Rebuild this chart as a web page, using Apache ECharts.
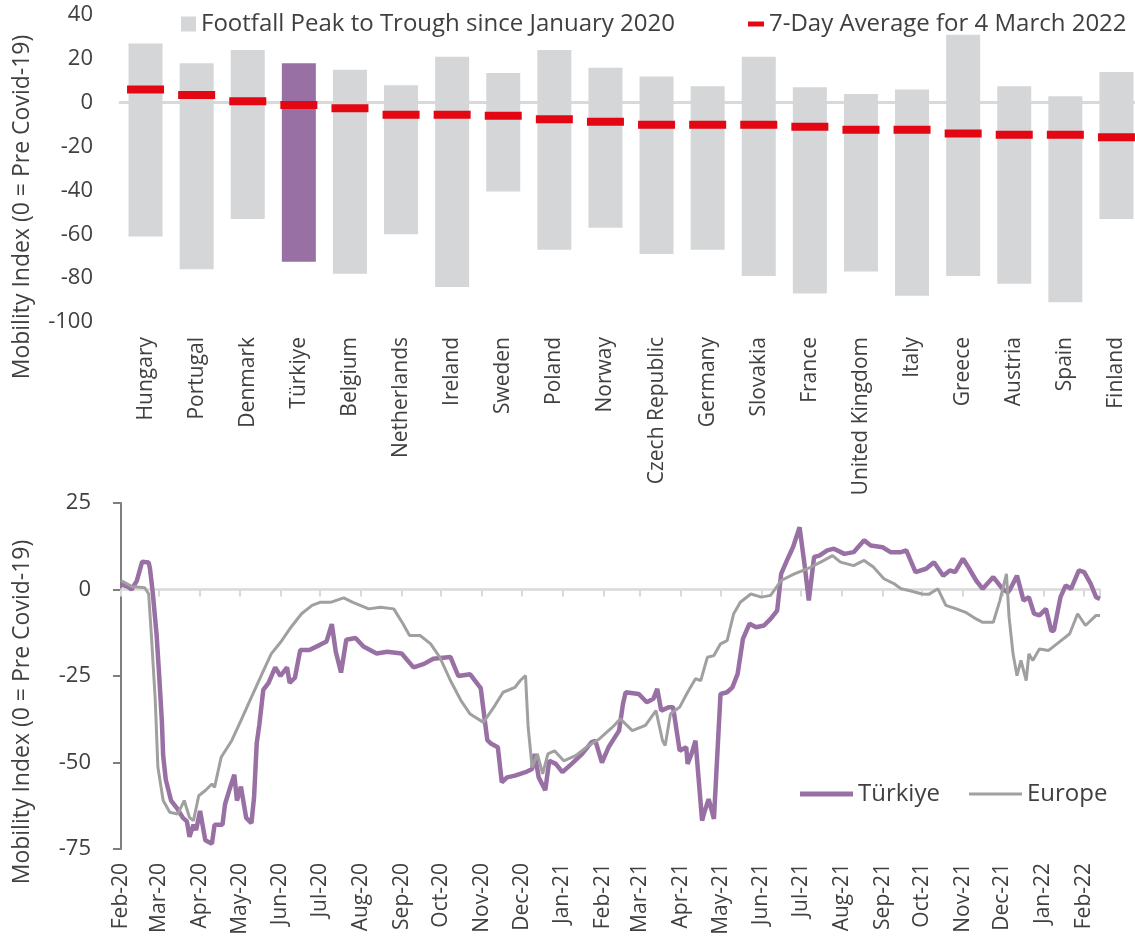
<!DOCTYPE html>
<html><head><meta charset="utf-8">
<script src="https://cdn.jsdelivr.net/npm/echarts@6/dist/echarts.min.js"></script>
<style>html,body{margin:0;padding:0;background:#fff}#c{width:1135px;height:936px}</style>
</head><body><div id="c"></div>
<script>
// ---------- Top chart data ----------
const countries = ['Hungary','Portugal','Denmark','Türkiye','Belgium','Netherlands','Ireland','Sweden','Poland','Norway','Czech Republic','Germany','Slovakia','France','United Kingdom','Italy','Greece','Austria','Spain','Finland'];
const peakValues   = [27, 18, 24, 18, 15, 8, 21, 13.5, 24, 16, 12, 7.5, 21, 7, 4, 6, 31, 7.5, 3, 14];
const troughValues = [-61, -76, -53, -72.5, -78, -60, -84, -40.5, -67, -57, -69, -67, -79, -87, -77, -88, -79, -82.5, -91, -53];
const avgValues    = [6, 3.5, 0.7, -1, -2.5, -5.5, -5.5, -6, -7.5, -8.7, -10, -10, -10, -11, -12.3, -12.3, -14, -14.6, -14.6, -15.8];

// ---------- Bottom chart data ----------
const turkiyeSeries = [
 ['2020-02-01',1.5],['2020-02-06',0.8],['2020-02-09',0],['2020-02-13',2.5],['2020-02-17',8],['2020-02-22',7.8],['2020-02-23',6],
 ['2020-02-25',-0.5],['2020-02-28',-13],['2020-03-01',-25],['2020-03-03',-38],['2020-03-04',-48],['2020-03-06',-55],['2020-03-10',-61],
 ['2020-03-15',-63.5],['2020-03-19',-66],['2020-03-22',-67],['2020-03-24',-71.5],['2020-03-27',-68],['2020-03-29',-69.5],['2020-04-01',-64],
 ['2020-04-05',-72.5],['2020-04-10',-73.5],['2020-04-12',-68],['2020-04-18',-68],['2020-04-20',-62],['2020-04-24',-57],['2020-04-27',-53.5],
 ['2020-04-29',-61],['2020-05-02',-57],['2020-05-06',-66],['2020-05-10',-67.5],['2020-05-12',-60],['2020-05-14',-44.5],['2020-05-16',-39],
 ['2020-05-19',-29],['2020-05-23',-27],['2020-05-28',-22.5],['2020-06-01',-25],['2020-06-06',-22.5],['2020-06-08',-27],['2020-06-12',-25.5],
 ['2020-06-16',-17.5],['2020-06-23',-17.5],['2020-07-01',-16],['2020-07-06',-15],['2020-07-10',-10],['2020-07-13',-18],['2020-07-17',-24],
 ['2020-07-21',-14.5],['2020-07-28',-14],['2020-08-03',-16.5],['2020-08-13',-18.5],['2020-08-21',-18],['2020-09-01',-18.5],['2020-09-10',-22.5],
 ['2020-09-18',-21.5],['2020-09-25',-20],['2020-10-08',-19.5],['2020-10-14',-25],['2020-10-23',-24.5],['2020-10-31',-28.5],['2020-11-05',-43.5],
 ['2020-11-08',-44.6],['2020-11-13',-45.6],['2020-11-16',-55.7],['2020-11-20',-54.3],['2020-11-26',-53.8],['2020-12-04',-52.8],['2020-12-09',-51.9],
 ['2020-12-11',-47.5],['2020-12-14',-54.3],['2020-12-19',-58],['2020-12-22',-49.5],['2020-12-27',-50.4],['2021-01-01',-52.8],['2021-01-08',-50.4],
 ['2021-01-16',-47.5],['2021-01-23',-44.2],['2021-01-26',-43.7],['2021-01-31',-50],['2021-02-05',-45.6],['2021-02-13',-40.8],['2021-02-16',-33],
 ['2021-02-18',-29.7],['2021-02-28',-30.2],['2021-03-06',-32.6],['2021-03-11',-31.6],['2021-03-14',-28.7],['2021-03-17',-35],['2021-03-23',-34],
 ['2021-03-26',-34],['2021-03-31',-46.6],['2021-04-05',-45.6],['2021-04-06',-50.4],['2021-04-09',-47.5],['2021-04-12',-43.7],['2021-04-17',-66.8],
 ['2021-04-19',-64],['2021-04-22',-60.6],['2021-04-26',-66.3],['2021-05-01',-30.2],['2021-05-06',-29.7],['2021-05-10',-28.3],['2021-05-14',-24.4],
 ['2021-05-18',-14.3],['2021-05-23',-9.9],['2021-05-28',-10.9],['2021-06-03',-10.4],['2021-06-08',-8.5],['2021-06-13',-6.1],['2021-06-16',4.5],
 ['2021-06-21',8.9],['2021-06-25',12.2],['2021-06-30',18],['2021-07-04',6.5],['2021-07-07',-3.2],['2021-07-11',9.4],['2021-07-15',9.8],
 ['2021-07-21',11.3],['2021-07-26',11.8],['2021-08-03',10.3],['2021-08-10',10.8],['2021-08-18',14.2],['2021-08-23',12.7],['2021-09-01',12.2],
 ['2021-09-07',10.8],['2021-09-15',10.8],['2021-09-19',11.3],['2021-09-26',5],['2021-10-04',6],['2021-10-10',7.9],['2021-10-17',4],
 ['2021-10-22',5.5],['2021-10-26',5],['2021-11-01',8.9],['2021-11-05',6.5],['2021-11-11',2.6],['2021-11-16',0.2],['2021-11-24',3.6],
 ['2021-12-01',0.2],['2021-12-05',-0.8],['2021-12-07',0.2],['2021-12-12',4],['2021-12-17',-3.2],['2021-12-21',-2.2],['2021-12-25',-7],
 ['2021-12-29',-7.5],['2022-01-03',-5.6],['2022-01-07',-11.9],['2022-01-09',-11.9],['2022-01-14',-2.2],['2022-01-18',1.2],['2022-01-22',0.2],
 ['2022-01-28',5.5],['2022-02-01',5],['2022-02-06',1.6],['2022-02-10',-2.2],['2022-02-13',-2.7]
];
const europeSeries = [
 ['2020-02-01',2.6],['2020-02-09',0.9],['2020-02-19',0.5],['2020-02-22',-1.3],['2020-02-24',-12.8],['2020-02-27',-32],['2020-02-29',-51.4],
 ['2020-03-04',-61],['2020-03-09',-64.4],['2020-03-15',-64.9],['2020-03-20',-61],['2020-03-24',-65.9],['2020-03-27',-66.8],['2020-03-31',-59.6],
 ['2020-04-05',-58.1],['2020-04-10',-56.2],['2020-04-12',-57.2],['2020-04-17',-48.5],['2020-04-25',-43.7],['2020-05-02',-37.9],['2020-05-10',-31.1],
 ['2020-05-18',-24.4],['2020-05-25',-18.6],['2020-06-02',-14.8],['2020-06-09',-10.9],['2020-06-17',-7],['2020-06-25',-4.6],['2020-07-01',-3.7],
 ['2020-07-09',-3.7],['2020-07-19',-2.4],['2020-07-26',-3.7],['2020-08-07',-5.6],['2020-08-16',-5.1],['2020-08-26',-5.6],['2020-09-02',-9.9],
 ['2020-09-07',-13.3],['2020-09-15',-13.3],['2020-09-23',-15.7],['2020-09-30',-19.6],['2020-10-08',-26.3],['2020-10-16',-32.1],['2020-10-23',-36],
 ['2020-11-02',-38.4],['2020-11-10',-34],['2020-11-17',-29.7],['2020-11-26',-28.3],['2020-11-30',-26.3],['2020-12-04',-24.9],['2020-12-06',-39.8],
 ['2020-12-09',-51.4],['2020-12-13',-47.5],['2020-12-17',-53.3],['2020-12-21',-47.5],['2020-12-26',-46.6],['2021-01-02',-49.5],['2021-01-11',-48],
 ['2021-01-21',-45.1],['2021-01-29',-43.2],['2021-02-08',-39.8],['2021-02-14',-37.4],['2021-02-23',-40.8],['2021-03-05',-39.3],['2021-03-13',-35],
 ['2021-03-18',-43.7],['2021-03-20',-45.1],['2021-03-24',-36],['2021-03-31',-34],['2021-04-06',-29.7],['2021-04-12',-25.8],['2021-04-16',-26.3],
 ['2021-04-21',-19.6],['2021-04-26',-19.1],['2021-05-01',-15.7],['2021-05-06',-14.8],['2021-05-11',-7],['2021-05-16',-3.7],['2021-05-24',-1.3],
 ['2021-06-01',-2.2],['2021-06-08',-1.7],['2021-06-16',2.6],['2021-06-26',4.5],['2021-07-06',6],['2021-07-16',7.9],['2021-07-25',9.8],
 ['2021-07-31',7.9],['2021-08-10',6.9],['2021-08-18',8.4],['2021-08-25',6.5],['2021-09-02',3.1],['2021-09-10',1.6],['2021-09-15',0.2],
 ['2021-09-21',-0.3],['2021-10-01',-1.3],['2021-10-06',-1.4],['2021-10-13',0.2],['2021-10-19',-4.6],['2021-10-27',-5.6],['2021-11-03',-6.6],
 ['2021-11-11',-8.5],['2021-11-16',-9.5],['2021-11-24',-9.5],['2021-11-29',-3.2],['2021-12-04',4.5],['2021-12-06',-8],['2021-12-09',-18.6],
 ['2021-12-12',-24.9],['2021-12-15',-20.5],['2021-12-19',-26.3],['2021-12-21',-18.6],['2021-12-24',-20.5],['2021-12-29',-17.2],['2022-01-05',-17.6],
 ['2022-01-13',-15.2],['2022-01-21',-12.8],['2022-01-27',-7],['2022-02-02',-10.4],['2022-02-10',-7.5],['2022-02-13',-7.5]
];
const monthNames = ['Jan','Feb','Mar','Apr','May','Jun','Jul','Aug','Sep','Oct','Nov','Dec'];
const axisTitle = 'Mobility Index (0 = Pre Covid-19)';
const footName = 'Footfall Peak to Trough since January 2020';
const avgName = '7-Day Average for 4 March 2022';

// ---------- Styles ----------
const FONT = 'Open Sans';
const TEXT = '#404040';
const PURPLE = '#9970a4';
const GREY_BAR = '#d5d6d8';
const RED = '#e30613';
const GREY_LINE = '#a0a0a0';
const hi = countries.indexOf('Türkiye');
const mark = (arr) => arr.map((v, i) => i === hi ? {value: v, itemStyle: {color: PURPLE}} : v);
const monthLabel = (val) => { const d = new Date(val); return monthNames[d.getMonth()] + '-' + String(d.getFullYear()).slice(2); };
const timeAxisBase = {type: 'time', gridIndex: 1, min: '2020-02-01', max: '2022-02-13',
  splitNumber: 25, minInterval: 28 * 864e5, maxInterval: 31 * 864e5, splitLine: {show: false}};
const legendText = {fontSize: 24, color: TEXT, fontFamily: FONT};

const chart = echarts.init(document.getElementById('c'), null, {renderer: 'canvas'});
chart.setOption({
  animation: false,
  textStyle: {fontFamily: FONT},
  grid: [
    {left: 120, top: 15, width: 1022, height: 307, outerBoundsMode: 'none', containLabel: false},
    {left: 121, top: 503, width: 979, height: 346, outerBoundsMode: 'none', containLabel: false}
  ],
  xAxis: [
    {type: 'category', gridIndex: 0, data: countries, position: 'bottom',
     axisLine: {show: false, onZero: false}, axisTick: {show: false},
     axisLabel: {rotate: 90, margin: 15, fontSize: 21, color: TEXT, fontFamily: FONT, interval: 0}},
    Object.assign({}, timeAxisBase, {position: 'bottom',
     axisLine: {show: false, onZero: false}, axisTick: {show: false},
     axisLabel: {rotate: 90, margin: 14, fontSize: 21, color: TEXT, fontFamily: FONT, showMinLabel: true, formatter: monthLabel}}),
    {type: 'category', gridIndex: 0, data: countries,
     axisLine: {show: true, onZero: true, lineStyle: {color: '#d9d9d9', width: 3}},
     axisTick: {show: false}, axisLabel: {show: false}},
    Object.assign({}, timeAxisBase, {
     axisLine: {show: true, onZero: true, lineStyle: {color: '#d9d9d9', width: 2.5}},
     axisTick: {show: true, inside: true, length: 7, lineStyle: {color: '#d9d9d9', width: 2}},
     axisLabel: {show: false}})
  ],
  yAxis: [
    {type: 'value', gridIndex: 0, min: -100, max: 40, interval: 20,
     axisLine: {show: false}, axisTick: {show: false}, splitLine: {show: false},
     axisLabel: {fontSize: 22, color: TEXT, margin: 27, fontFamily: FONT}},
    {type: 'value', gridIndex: 1, min: -75, max: 25, interval: 25,
     axisLine: {show: true, lineStyle: {color: '#7f7f7f', width: 2}},
     axisTick: {show: true, length: 8, lineStyle: {color: '#7f7f7f', width: 2}},
     splitLine: {show: false},
     axisLabel: {fontSize: 22, color: TEXT, margin: 30, fontFamily: FONT}}
  ],
  legend: [
    {data: [footName], left: 181, top: 12, padding: 0, icon: 'rect', itemWidth: 15, itemHeight: 15, textStyle: legendText},
    {data: [avgName], left: 748, top: 12, padding: 0, icon: 'rect', itemWidth: 16, itemHeight: 5, textStyle: legendText},
    {data: ['Türkiye'], left: 800, top: 782, padding: 0, icon: 'rect', itemWidth: 53, itemHeight: 5, textStyle: legendText},
    {data: ['Europe'], left: 969, top: 782, padding: 0, icon: 'rect', itemWidth: 53, itemHeight: 3, textStyle: legendText}
  ],
  graphic: [
    {type: 'text', x: 22, y: 207, rotation: Math.PI / 2,
     style: {text: axisTitle, fill: TEXT, font: '23px "Open Sans"', align: 'center', verticalAlign: 'middle'}},
    {type: 'text', x: 22, y: 712, rotation: Math.PI / 2,
     style: {text: axisTitle, fill: TEXT, font: '23px "Open Sans"', align: 'center', verticalAlign: 'middle'}}
  ],
  series: [
    {name: footName, type: 'bar', xAxisIndex: 0, yAxisIndex: 0, data: mark(peakValues),
     barWidth: 34, barGap: '-100%', itemStyle: {color: GREY_BAR}},
    {name: footName, type: 'bar', xAxisIndex: 0, yAxisIndex: 0, data: mark(troughValues),
     barWidth: 34, barGap: '-100%', itemStyle: {color: GREY_BAR}},
    {name: avgName, type: 'scatter', xAxisIndex: 0, yAxisIndex: 0, data: avgValues,
     symbol: 'rect', symbolSize: [37, 8], itemStyle: {color: RED, opacity: 1}, z: 5},
    {name: 'Türkiye', type: 'line', xAxisIndex: 1, yAxisIndex: 1, data: turkiyeSeries,
     symbol: 'none', lineStyle: {color: PURPLE, width: 4.5}, itemStyle: {color: PURPLE}},
    {name: 'Europe', type: 'line', xAxisIndex: 1, yAxisIndex: 1, data: europeSeries,
     symbol: 'none', lineStyle: {color: GREY_LINE, width: 3}, itemStyle: {color: GREY_LINE}}
  ]
});
</script>
</body></html>
